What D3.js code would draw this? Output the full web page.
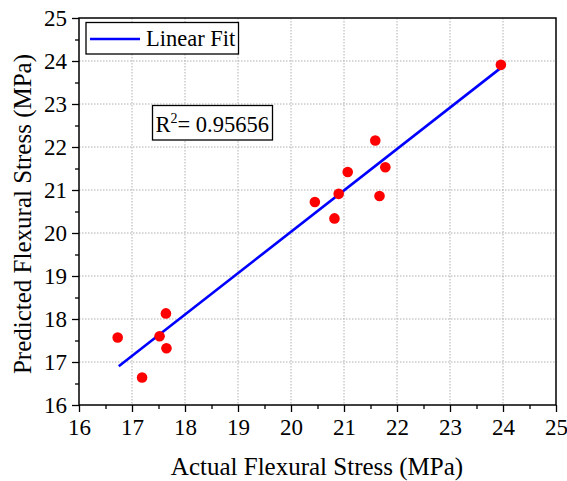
<!DOCTYPE html>
<html><head><meta charset="utf-8">
<script src="https://cdn.jsdelivr.net/npm/d3@7"></script>
</head><body style="margin:0">
<svg id="c" width="567" height="481" style="position:absolute;left:0;top:0;background:#fff"></svg>
<script>
const actual = [16.73, 17.19, 17.52, 17.64, 17.65, 20.45, 20.82, 20.90, 21.07, 21.59, 21.67, 21.78, 23.96];
const predicted = [17.57, 16.64, 17.60, 18.13, 17.32, 20.72, 20.34, 20.91, 21.42, 22.15, 20.86, 21.53, 23.91];
const fitX = [16.75, 23.96];
const fitY = [16.90, 23.84];
const xTicks = [16,17,18,19,20,21,22,23,24,25];
const yTicks = [16,17,18,19,20,21,22,23,24,25];
const r2Label = "0.95656";

const FONT = "Liberation Serif";
const svg = d3.select("#c");
const L=79, R=556, T=18, B=405;
const x = d3.scaleLinear().domain([16,25]).range([L,R]);
const y = d3.scaleLinear().domain([16,25]).range([B,T]);

// grid
const g = svg.append("g");
g.selectAll(".vg").data(xTicks.slice(1,-1)).join("line")
  .attr("x1",d=>x(d)).attr("x2",d=>x(d)).attr("y1",T).attr("y2",B)
  .attr("stroke","#b0b0b0").attr("stroke-width",1).attr("stroke-dasharray","1.5,1.5");
g.selectAll(".hg").data(yTicks.slice(1,-1)).join("line")
  .attr("y1",d=>y(d)).attr("y2",d=>y(d)).attr("x1",L).attr("x2",R)
  .attr("stroke","#b0b0b0").attr("stroke-width",1).attr("stroke-dasharray","1.5,1.5");

// axes
const minorX = d3.range(16.5,25,1);
const ax = svg.append("g").attr("transform",`translate(0,${B})`)
  .call(d3.axisBottom(x).tickValues(xTicks).tickSize(7).tickPadding(3).tickFormat(d3.format("d")));
svg.append("g").attr("transform",`translate(0,${B})`).call(d3.axisBottom(x).tickValues(minorX).tickSize(4).tickFormat(""));
const ay = svg.append("g").attr("transform",`translate(${L},0)`)
  .call(d3.axisLeft(y).tickValues(yTicks).tickSize(7).tickPadding(5).tickFormat(d3.format("d")));
svg.append("g").attr("transform",`translate(${L},0)`).call(d3.axisLeft(y).tickValues(minorX).tickSize(4).tickFormat(""));
svg.selectAll(".domain").remove();
svg.selectAll("g").attr("font-family",null).attr("font-size",null);
svg.selectAll(".tick line").attr("stroke","#000").attr("stroke-width",1.3);
svg.selectAll(".tick text").style("font-family",FONT).style("font-size","23px").attr("fill","#000");
ax.selectAll(".tick text").attr("y",30).attr("dy",0);

// frame
svg.append("rect").attr("x",L).attr("y",T).attr("width",R-L).attr("height",B-T)
  .attr("fill","none").attr("stroke","#000").attr("stroke-width",1.5);

// fit line
svg.append("line").attr("x1",x(fitX[0])).attr("y1",y(fitY[0])).attr("x2",x(fitX[1])).attr("y2",y(fitY[1]))
  .attr("stroke","#0000ff").attr("stroke-width",2.6);

// points
svg.selectAll(".pt").data(actual.map((a,i)=>[a,predicted[i]])).join("circle")
  .attr("cx",d=>x(d[0])).attr("cy",d=>y(d[1])).attr("r",5.3).attr("fill","#ff0000");

function txt(sel,size){ return sel.style("font-family",FONT).style("font-size",size+"px"); }

// legend
svg.append("rect").attr("x",86).attr("y",22.5).attr("width",152.5).attr("height",31.5)
  .attr("fill","#fff").attr("stroke","#000").attr("stroke-width",1.3);
svg.append("line").attr("x1",90).attr("x2",140).attr("y1",39).attr("y2",39).attr("stroke","#0000ff").attr("stroke-width",2.6);
txt(svg.append("text").attr("x",146).attr("y",46),22.5).text("Linear Fit");

// R2 box
svg.append("rect").attr("x",152.5).attr("y",105.5).attr("width",120).attr("height",34.5)
  .attr("fill","#fff").attr("stroke","#000").attr("stroke-width",1.3);
const rt = txt(svg.append("text").attr("x",155.5).attr("y",132),22.5);
rt.append("tspan").text("R");
rt.append("tspan").attr("dy",-9).style("font-size","14px").text("2");
rt.append("tspan").attr("dy",9).text("= " + r2Label);

// axis titles
txt(svg.append("text").attr("x",317).attr("y",475).attr("text-anchor","middle"),25)
  .text("Actual Flexural Stress (MPa)");
txt(svg.append("text").attr("transform","translate(31,214) rotate(-90)").attr("text-anchor","middle"),25)
  .text("Predicted Flexural Stress (MPa)");
</script></body></html>
